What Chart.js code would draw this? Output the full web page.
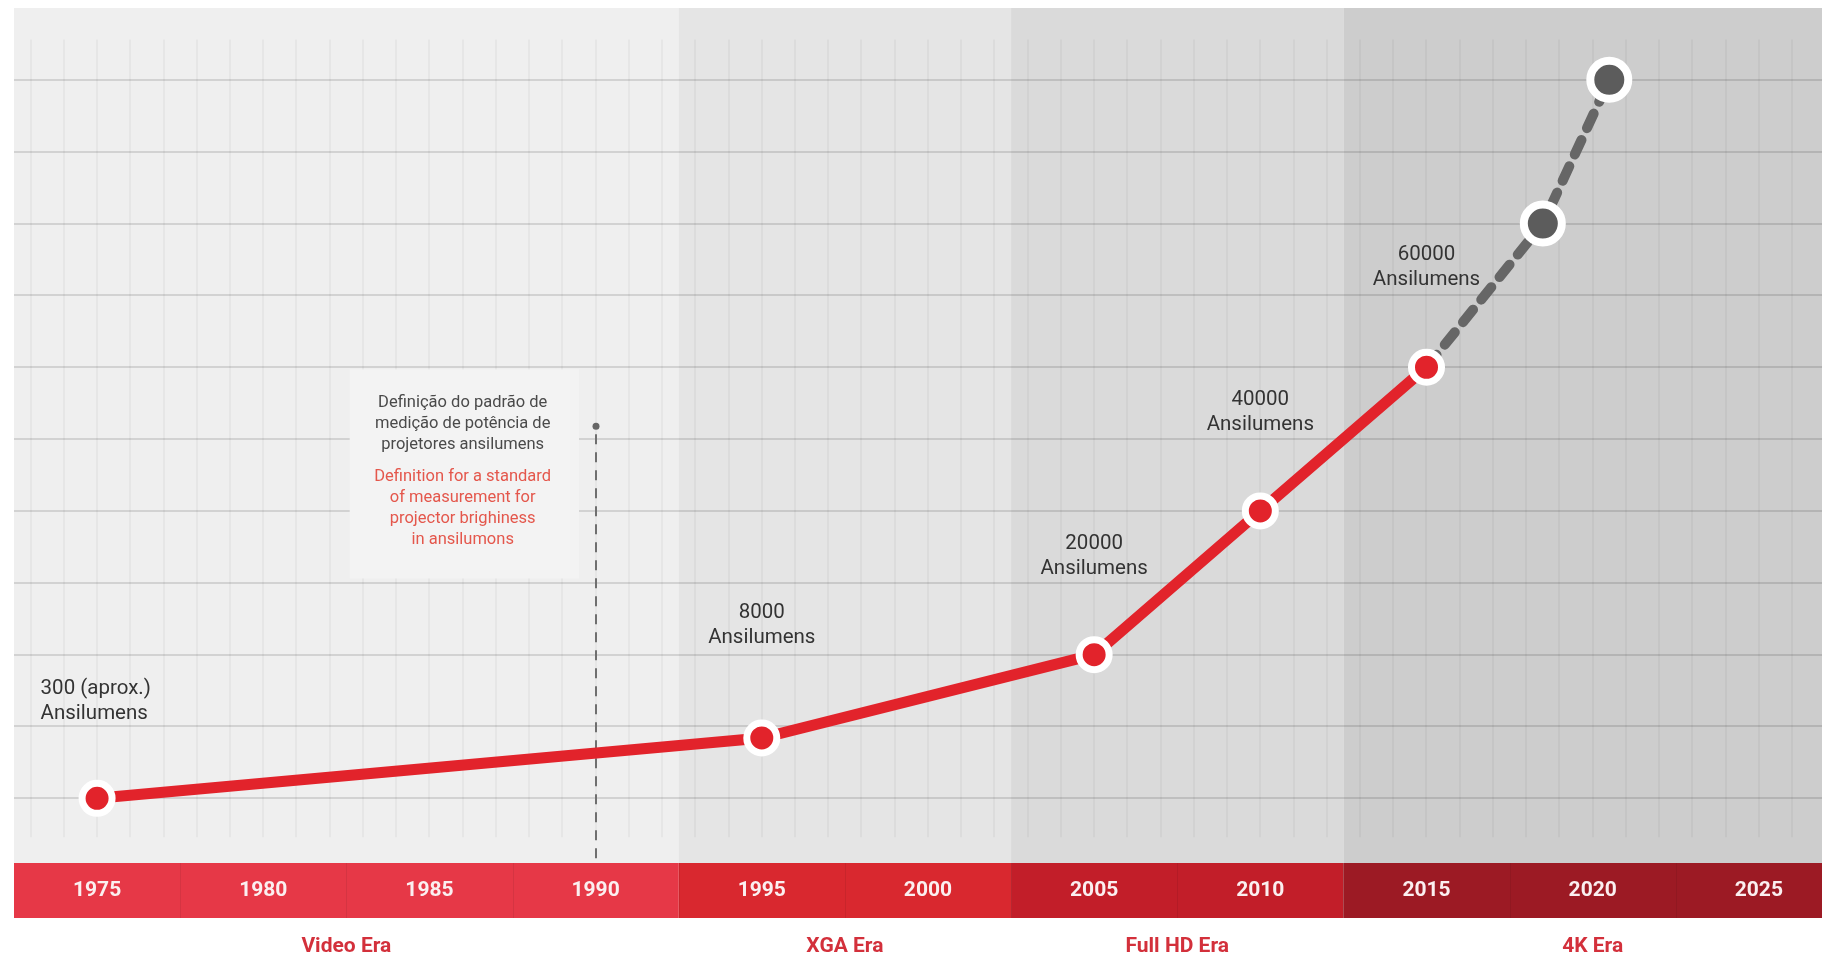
<!DOCTYPE html>
<html>
<head>
<meta charset="utf-8">
<title>Ansilumens timeline</title>
<script src="https://cdn.jsdelivr.net/npm/chart.js@4.4.1/dist/chart.umd.min.js"></script>
<style>
  html, body { margin: 0; padding: 0; background: #fff; }
  canvas { display: block; }
</style>
</head>
<body>
<canvas id="timelineCanvas" width="1822" height="960"></canvas>
<script>
// data
var years = [1975, 1995, 2005, 2010, 2015];
var levels = [0, 0.84, 2, 4, 6];
var lumenLabels = ['300 (aprox.)', '8000', '20000', '40000', '60000'];
var projYears = [2015, 2018.5, 2020.5];
var projLevels = [6, 8, 10];
var tickYears = [1975, 1980, 1985, 1990, 1995, 2000, 2005, 2010, 2015, 2020, 2025];
var eraNames = ['Video Era', 'XGA Era', 'Full HD Era', '4K Era'];
var eraStart = [1972.5, 1992.5, 2002.5, 2012.5];
var eraEnd = [1992.5, 2002.5, 2012.5, 2027.5];
var eraCenter = [1982.5, 1997.5, 2007.5, 2020];
var standardYear = 1990;
var notePt = ['Definição do padrão de', 'medição de potência de', 'projetores ansilumens'];
var noteEn = ['Definition for a standard', 'of measurement for', 'projector brighiness', 'in ansilumons'];

var panelColors = ['#efefef', '#e5e5e5', '#dadada', '#cdcdcd'];
var bandColors = ['#e63847', '#d9282f', '#c21e29', '#9c1a24'];

// where the value labels sit (x year, y level of first line)
var labelX = [1973.3, 1995, 2005, 2010, 2015];
var labelY = [1.53, 2.58, 3.54, 5.54, 7.57];

var decor = {
  id: 'decor',
  beforeDraw: function (chart) {
    var ctx = chart.ctx, a = chart.chartArea;
    var x = chart.scales.x, y = chart.scales.y;
    ctx.save();
    ctx.fillStyle = '#fff';
    ctx.fillRect(0, 0, chart.width, chart.height);

    for (var i = 0; i < eraNames.length; i++) {
      var l = Math.max(a.left, x.getPixelForValue(eraStart[i]));
      var r = Math.min(a.right, x.getPixelForValue(eraEnd[i]));
      ctx.fillStyle = panelColors[i];
      ctx.fillRect(l, a.top, r - l, a.bottom - a.top);
      ctx.fillStyle = bandColors[i];
      ctx.fillRect(l, x.top, r - l, x.bottom - x.top);
    }

    // faint vertical lines
    ctx.lineWidth = 2;
    ctx.strokeStyle = 'rgba(0,0,0,0.035)';
    var yTop = y.getPixelForValue(10.56), yBot = y.getPixelForValue(-0.54);
    for (var yr = 1973; yr <= 2026; yr++) {
      var px = Math.round(x.getPixelForValue(yr));
      ctx.beginPath();
      ctx.moveTo(px, yTop);
      ctx.lineTo(px, yBot);
      ctx.stroke();
    }

    // separators in the red band
    ctx.strokeStyle = 'rgba(0,0,0,0.07)';
    ctx.lineWidth = 1;
    for (var j = 0; j < tickYears.length; j++) {
      var sx = Math.round(x.getPixelForValue(tickYears[j] + 2.5)) + 0.5;
      ctx.beginPath();
      ctx.moveTo(sx, x.top);
      ctx.lineTo(sx, x.bottom);
      ctx.stroke();
    }
    ctx.restore();
  },
  beforeDatasetsDraw: function (chart) {
    var ctx = chart.ctx, a = chart.chartArea;
    var x = chart.scales.x, y = chart.scales.y;
    ctx.save();

    // note box hiding the grid
    var bx0 = x.getPixelForValue(1982.6), bx1 = x.getPixelForValue(1989.5);
    var by0 = y.getPixelForValue(5.97), by1 = y.getPixelForValue(3.06);
    ctx.fillStyle = '#f3f3f3';
    ctx.fillRect(bx0, by0, bx1 - bx0, by1 - by0);

    // dashed marker for the standard
    var sx = Math.round(x.getPixelForValue(standardYear));
    var sy = y.getPixelForValue(5.18);
    ctx.strokeStyle = '#6f6f6f';
    ctx.lineWidth = 2;
    ctx.setLineDash([10, 8]);
    ctx.beginPath();
    ctx.moveTo(sx, sy + 8);
    ctx.lineTo(sx, a.bottom - 2);
    ctx.stroke();
    ctx.setLineDash([]);
    ctx.fillStyle = '#666';
    ctx.beginPath();
    ctx.arc(sx, sy, 3.5, 0, Math.PI * 2);
    ctx.fill();

    // note text
    var nx = x.getPixelForValue(1986.0);
    var ny = y.getPixelForValue(5.51);
    ctx.textAlign = 'center';
    ctx.textBaseline = 'middle';
    ctx.font = '16.5px Roboto';
    ctx.fillStyle = '#4a4a4a';
    for (var p = 0; p < notePt.length; p++) {
      ctx.fillText(notePt[p], nx, ny + p * 21);
    }
    ctx.fillStyle = '#e4574c';
    for (var e = 0; e < noteEn.length; e++) {
      ctx.fillText(noteEn[e], nx, ny + 74 + e * 21.3);
    }

    // value labels
    ctx.font = '20.5px Roboto';
    ctx.fillStyle = '#333';
    for (var k = 0; k < lumenLabels.length; k++) {
      ctx.textAlign = k === 0 ? 'left' : 'center';
      var lx = x.getPixelForValue(labelX[k]);
      var ly = y.getPixelForValue(labelY[k]);
      ctx.fillText(lumenLabels[k], lx, ly);
      ctx.fillText('Ansilumens', lx, ly + 25);
    }
    ctx.restore();
  }
};

var redPoints = years.map(function (yr, i) { return { x: yr, y: levels[i] }; });
var greyPoints = projYears.map(function (yr, i) { return { x: yr, y: projLevels[i] }; });

new Chart(document.getElementById('timelineCanvas'), {
  type: 'line',
  data: {
    datasets: [
      {
        label: 'Ansilumens',
        data: redPoints,
        borderColor: '#e2232b',
        borderWidth: 11,
        tension: 0,
        pointRadius: 15,
        pointBorderWidth: 7,
        pointBackgroundColor: '#e2232b',
        pointBorderColor: '#ffffff',
        order: 0
      },
      {
        label: 'Projection',
        data: greyPoints,
        borderColor: '#666666',
        borderWidth: 10,
        borderDash: [16, 13],
        borderCapStyle: 'round',
        tension: 0,
        pointRadius: [0, 19, 19],
        pointBorderWidth: 8,
        pointBackgroundColor: '#5c5c5c',
        pointBorderColor: '#ffffff',
        order: 1
      }
    ]
  },
  options: {
    responsive: false,
    animation: false,
    events: [],
    layout: { autoPadding: false, padding: { left: 14, top: 8, right: 0, bottom: 0 } },
    plugins: { legend: { display: false }, tooltip: { enabled: false } },
    scales: {
      x: {
        type: 'linear',
        position: 'bottom',
        weight: 0,
        min: 1972.5,
        max: 2026.9,
        afterBuildTicks: function (s) { s.ticks = tickYears.map(function (v) { return { value: v }; }); },
        afterFit: function (s) { s.height = 55; s.paddingLeft = 0; s.paddingRight = 0; },
        grid: { display: false, drawTicks: false },
        border: { display: false },
        ticks: {
          autoSkip: false,
          maxRotation: 0,
          padding: 15,
          color: '#fbeff0',
          font: { family: 'Roboto', size: 21, weight: 'bold' },
          callback: function (v) { return String(v); }
        }
      },
      era: {
        type: 'linear',
        position: 'bottom',
        weight: 1,
        min: 1972.5,
        max: 2026.9,
        afterBuildTicks: function (s) { s.ticks = eraCenter.map(function (v) { return { value: v }; }); },
        afterFit: function (s) { s.height = 42; s.paddingLeft = 0; s.paddingRight = 0; },
        grid: { display: false, drawTicks: false },
        border: { display: false },
        ticks: {
          autoSkip: false,
          maxRotation: 0,
          padding: 16,
          color: '#d3303b',
          font: { family: 'Roboto', size: 21, weight: 'bold' },
          callback: function (v) { return eraNames[eraCenter.indexOf(v)]; }
        }
      },
      y: {
        type: 'linear',
        min: -0.9,
        max: 11,
        afterBuildTicks: function (s) {
          var t = [];
          for (var i = 0; i <= 10; i++) t.push({ value: i });
          s.ticks = t;
        },
        afterFit: function (s) { s.width = 0; s.paddingTop = 0; s.paddingBottom = 0; },
        grid: { color: 'rgba(0,0,0,0.12)', lineWidth: 2, drawTicks: false },
        border: { display: false },
        ticks: { display: false }
      }
    }
  },
  plugins: [decor]
});
</script>
</body>
</html>
